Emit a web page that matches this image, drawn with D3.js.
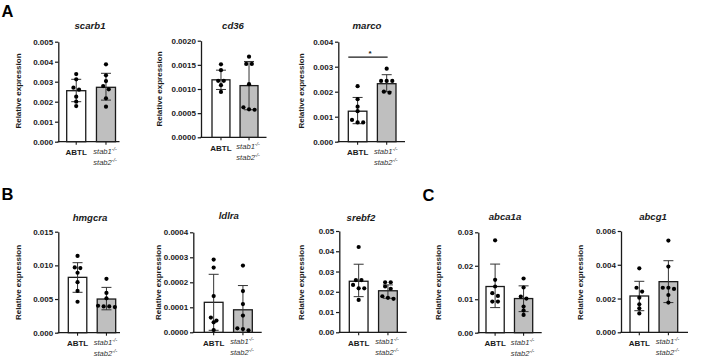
<!DOCTYPE html>
<html><head><meta charset="utf-8">
<script src="https://cdn.jsdelivr.net/npm/d3@7"></script>
<style>body{margin:0;background:#fff}svg{display:block}</style>
</head><body>
<svg id="c" width="711" height="363"></svg>
<script>
// ---------------- DATA ----------------
const genes  = ["scarb1", "cd36", "marco", "hmgcra", "ldlra", "srebf2", "abca1a", "abcg1"];
const groups = ["ABTL", "stab"];
const yMax   = [0.005, 0.002, 0.004, 0.015, 0.0004, 0.05, 0.03, 0.006];
const yStep  = [0.001, 0.0005, 0.001, 0.005, 0.0001, 0.01, 0.01, 0.002];
const yDecimals = [3, 4, 3, 3, 4, 2, 2, 3];

const meanABTL = [0.00255, 0.00119, 0.00122, 0.00822, 0.000120, 0.0252, 0.0138, 0.00215];
const meanStab = [0.00272, 0.00107, 0.00232, 0.00500, 0.000090, 0.0205, 0.0102, 0.00300];
const errLoABTL = [0.00200, 0.00099, 0.00072, 0.00600, 0.000008, 0.0176, 0.0075, 0.00128];
const errHiABTL = [0.00312, 0.00139, 0.00177, 0.01040, 0.000232, 0.0336, 0.0205, 0.00302];
const errLoStab = [0.00208, 0.00057, 0.00200, 0.00340, 0.000000, 0.0168, 0.0063, 0.00176];
const errHiStab = [0.00342, 0.00157, 0.00268, 0.00673, 0.000187, 0.0234, 0.0140, 0.00424];

const dotsABTL = [
  [0.00338, 0.00312, 0.00270, 0.00260, 0.00225, 0.00200, 0.00178],
  [0.00151, 0.00139, 0.00117, 0.00117, 0.00108, 0.00094],
  [0.00222, 0.00170, 0.00140, 0.00122, 0.00087, 0.00077, 0.00077],
  [0.0114, 0.0097, 0.0096, 0.0089, 0.0075, 0.0062, 0.0046],
  [0.000291, 0.000259, 0.000145, 0.000059, 0.000047, 0.000040, 0.000009],
  [0.0421, 0.0258, 0.0258, 0.0234, 0.0217, 0.0217, 0.0160],
  [0.0276, 0.0158, 0.0138, 0.0118, 0.0110, 0.0093, 0.0093],
  [0.00379, 0.00264, 0.00241, 0.00205, 0.00166, 0.00142, 0.00112]
];
const dotsStab = [
  [0.00387, 0.00332, 0.00303, 0.00278, 0.00262, 0.00217, 0.00175],
  [0.00167, 0.00152, 0.00152, 0.00110, 0.00062, 0.00057, 0.00058],
  [0.00292, 0.00243, 0.00243, 0.00243, 0.00200, 0.00196],
  [0.0080, 0.0059, 0.0051, 0.0040, 0.0039, 0.0039, 0.0038],
  [0.000267, 0.000165, 0.000113, 0.000067, 0.000016, 0.000013, 0.000008],
  [0.0247, 0.0247, 0.0226, 0.0215, 0.0178, 0.0170, 0.0165],
  [0.0162, 0.0135, 0.0108, 0.0102, 0.0078, 0.0066, 0.0053],
  [0.00543, 0.00389, 0.00264, 0.00264, 0.00257, 0.00221, 0.00176]
];
// significance bracket: gene index, y value, label
const significance = [{gene: 2, y: 0.00338, label: "*"}];
const panelLetters = ["A", "B", "C"];

// ---------------- LAYOUT ----------------
const layout = [
  {ax: 58.3,  x0: 66.7,  x1: 115.5, end: 119.5, top: 41.7,  bottom: 141.7, tx: 90,    ty: 28.5,  lx: 18.3,  ly: 91},
  {ax: 201,   x0: 212,   x1: 258,   end: 266.5, top: 40.7,  bottom: 137.3, tx: 233,   ty: 28.5,  lx: 159.3, ly: 89},
  {ax: 338.3, x0: 348.3, x1: 396,   end: 405,   top: 41.7,  bottom: 141.7, tx: 367,   ty: 28.5,  lx: 301.7, ly: 91},
  {ax: 58.3,  x0: 68.3,  x1: 115.7, end: 120,   top: 231.7, bottom: 332.7, tx: 90,    ty: 221,   lx: 18.3,  ly: 282.5},
  {ax: 193.3, x0: 204.3, x1: 252.3, end: 261.7, top: 232.3, bottom: 332.3, tx: 228.8, ty: 218.5, lx: 158.3, ly: 282.5},
  {ax: 339.3, x0: 349.3, x1: 397.3, end: 406.7, top: 231,   bottom: 332.3, tx: 361,   ty: 220.5, lx: 301.7, ly: 282.5},
  {ax: 478.3, x0: 486,   x1: 532.7, end: 541.7, top: 232.3, bottom: 332.7, tx: 505,   ty: 219.5, lx: 438.3, ly: 282.5},
  {ax: 621,   x0: 630,   x1: 677.7, end: 688,   top: 231,   bottom: 332.3, tx: 653,   ty: 220,   lx: 580.5, ly: 282.5}
];
const letterPos = [[1.5, 16.5], [1.5, 200], [422.5, 200.5]];

const FONT = "'Liberation Sans', Arial, Helvetica, sans-serif";
const INK = "#1a1a1a";
const GREY = "#bfbfbf";

const svg = d3.select("#c");

panelLetters.forEach((t, i) => {
  svg.append("text").attr("x", letterPos[i][0]).attr("y", letterPos[i][1])
    .attr("font-family", FONT).attr("font-weight", "bold").attr("font-size", 16.5)
    .attr("fill", "#000").text(t);
});

function swarm(vals, y, cx, spacing) {
  const order = vals.map((v, i) => i).sort((a, b) => vals[b] - vals[a]);
  const rows = [];
  order.forEach(i => {
    const py = y(vals[i]);
    const last = rows[rows.length - 1];
    if (last && Math.abs(py - last.y0) < 4) last.items.push({v: vals[i], py});
    else rows.push({y0: py, items: [{v: vals[i], py}]});
  });
  const out = [];
  rows.forEach(r => {
    const n = r.items.length;
    r.items.forEach((it, k) => out.push({x: cx + (k - (n - 1) / 2) * spacing, y: it.py}));
  });
  return out;
}

genes.forEach((gene, i) => {
  const L = layout[i];
  const g = svg.append("g");
  const y = d3.scaleLinear().domain([0, yMax[i]]).range([L.bottom, L.top]);
  const x = d3.scaleBand().domain(groups).range([L.x0, L.x1]).paddingInner(0.36);
  const bw = x.bandwidth();

  // y axis
  const ticks = d3.range(0, Math.round(yMax[i] / yStep[i]) + 1).map(k => k * yStep[i]);
  const yAxis = d3.axisLeft(y).tickValues(ticks).tickSize(3.3).tickSizeOuter(0).tickPadding(1.8)
    .tickFormat(d3.format("." + yDecimals[i] + "f"));
  const ga = g.append("g").attr("transform", `translate(${L.ax},0)`).call(yAxis);
  ga.select(".domain").attr("stroke", INK).attr("stroke-width", 1.3);
  ga.selectAll(".tick line").attr("stroke", INK).attr("stroke-width", 1.2);
  ga.selectAll(".tick text").attr("font-family", FONT).attr("font-weight", "bold")
    .attr("font-size", 8).attr("fill", INK);

  // x axis line
  g.append("line").attr("x1", L.ax - 0.65).attr("x2", L.end).attr("y1", L.bottom).attr("y2", L.bottom)
    .attr("stroke", INK).attr("stroke-width", 1.3);
  const xAxis = d3.axisBottom(x).tickSize(3).tickSizeOuter(0).tickFormat("");
  const gx = g.append("g").attr("transform", `translate(0,${L.bottom})`).call(xAxis);
  gx.select(".domain").remove();
  gx.selectAll(".tick line").attr("stroke", INK).attr("stroke-width", 1.1);

  // bars
  const means = [meanABTL[i], meanStab[i]];
  const lo = [errLoABTL[i], errLoStab[i]];
  const hi = [errHiABTL[i], errHiStab[i]];
  groups.forEach((grp, k) => {
    g.append("rect").attr("x", x(grp)).attr("y", y(means[k]))
      .attr("width", bw).attr("height", y(0) - y(means[k]))
      .attr("fill", k === 0 ? "#fff" : GREY).attr("stroke", INK).attr("stroke-width", 1.3);
  });
  // error bars
  groups.forEach((grp, k) => {
    const cx = x(grp) + bw / 2;
    const e = g.append("g").attr("stroke", "#333").attr("stroke-width", 1);
    e.append("line").attr("x1", cx).attr("x2", cx).attr("y1", y(lo[k])).attr("y2", y(hi[k]));
    e.append("line").attr("x1", cx - 5).attr("x2", cx + 5).attr("y1", y(hi[k])).attr("y2", y(hi[k]));
    if (lo[k] > 0) e.append("line").attr("x1", cx - 5).attr("x2", cx + 5).attr("y1", y(lo[k])).attr("y2", y(lo[k]));
  });
  // dots
  const dots = [dotsABTL[i], dotsStab[i]];
  groups.forEach((grp, k) => {
    const cx = x(grp) + bw / 2;
    swarm(dots[k], y, cx, 5.6).forEach(p => {
      g.append("circle").attr("cx", p.x).attr("cy", p.y).attr("r", 2.1).attr("fill", "#000");
    });
  });

  // x labels
  const cA = x("ABTL") + bw / 2, cS = x("stab") + bw / 2;
  g.append("text").attr("x", cA).attr("y", L.bottom + 13.2).attr("text-anchor", "middle")
    .attr("font-family", FONT).attr("font-weight", "bold").attr("font-size", 8).attr("fill", INK).text("ABTL");
  [["stab1", 12], ["stab2", 23]].forEach(([s, dy]) => {
    const t = g.append("text").attr("x", cS - 1).attr("y", L.bottom + dy).attr("text-anchor", "middle")
      .attr("font-family", FONT).attr("font-style", "italic").attr("font-size", 7.6).attr("fill", "#333");
    t.append("tspan").text(s);
    t.append("tspan").attr("dy", -3).attr("font-size", 5.2).text("-/-");
  });

  // title
  g.append("text").attr("x", L.tx).attr("y", L.ty).attr("text-anchor", "middle")
    .attr("font-family", FONT).attr("font-weight", "bold").attr("font-style", "italic")
    .attr("font-size", 9.6).attr("fill", INK).text(gene);

  // y label
  g.append("text").attr("transform", `translate(${L.lx},${L.ly}) rotate(-90)`)
    .attr("text-anchor", "middle").attr("dominant-baseline", "central")
    .attr("font-family", FONT).attr("font-weight", "bold").attr("font-size", 8).attr("fill", INK)
    .text("Relative expression");

  // significance
  significance.filter(s => s.gene === i).forEach(s => {
    const ys = y(s.y);
    const xa = x("ABTL"), xb = x("stab") + bw * 0.55;
    g.append("line").attr("x1", xa).attr("x2", xb).attr("y1", ys).attr("y2", ys)
      .attr("stroke", INK).attr("stroke-width", 1.2);
    g.append("text").attr("x", (xa + xb) / 2 + 2).attr("y", ys - 1.5).attr("text-anchor", "middle")
      .attr("font-family", FONT).attr("font-weight", "bold").attr("font-size", 8).attr("fill", INK).text(s.label);
  });
});
</script>
</body></html>
